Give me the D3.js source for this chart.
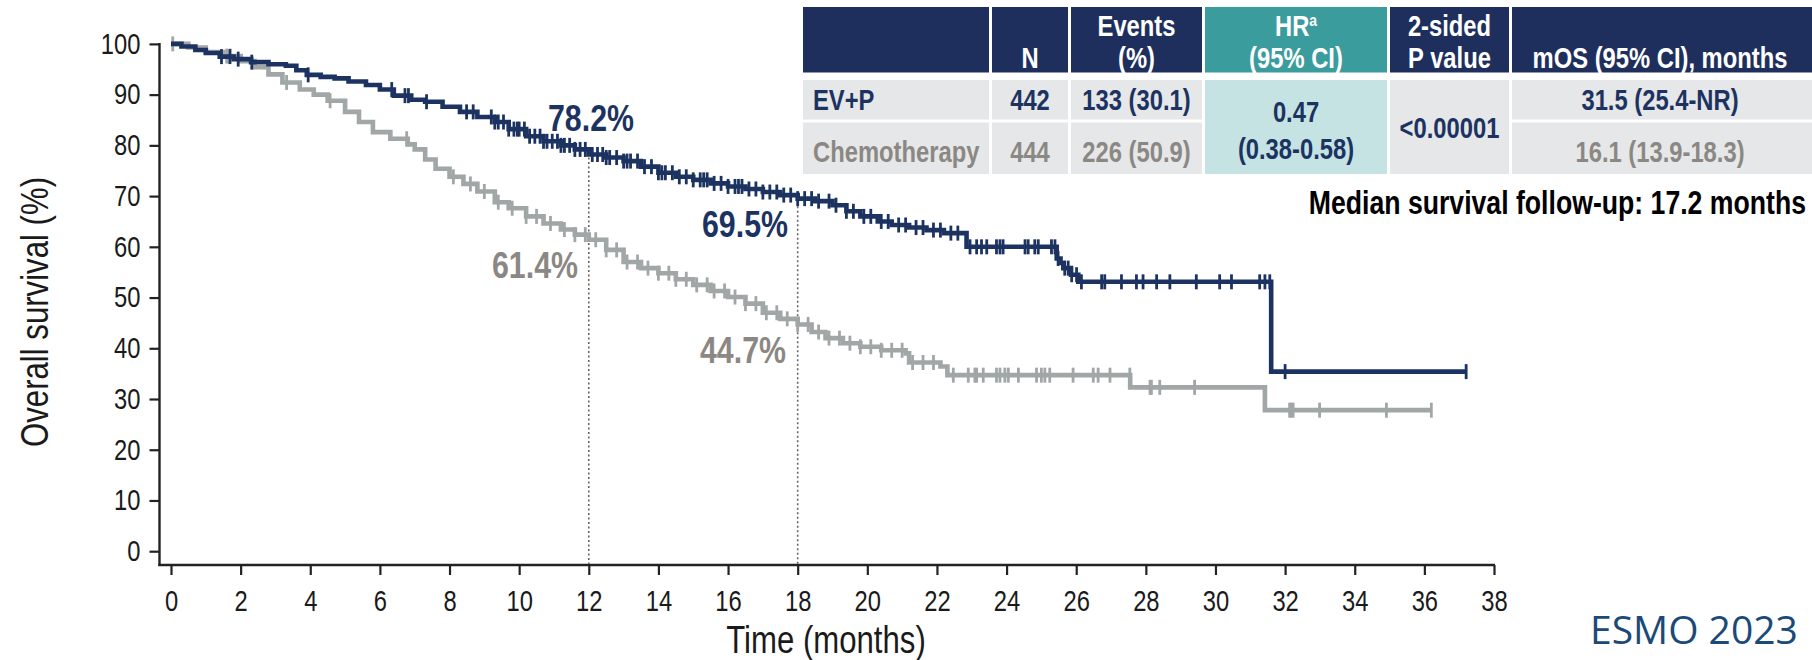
<!DOCTYPE html>
<html>
<head>
<meta charset="utf-8">
<script src="https://cdn.jsdelivr.net/npm/d3@7"></script>
<style>
  html, body { margin: 0; padding: 0; background: #ffffff; }
  svg { display: block; }
</style>
</head>
<body>
<svg id="chart" width="1812" height="660"></svg>
<script>
// ---------------- DATA ----------------
const xTicks = [0, 2, 4, 6, 8, 10, 12, 14, 16, 18, 20, 22, 24, 26, 28, 30, 32, 34, 36, 38];
const yTicks = [0, 10, 20, 30, 40, 50, 60, 70, 80, 90, 100];

// EV+P Kaplan-Meier steps: time (months), survival (%)
const evpTime = [0, 0.3, 0.7, 1.0, 1.4, 1.8, 2.3, 2.8, 3.3, 3.6, 3.9, 4.3, 4.7, 5.1, 5.6, 6.0, 6.4, 6.9, 7.3, 7.8,
  8.3, 8.8, 9.3, 9.7, 10.2, 10.7, 11.2, 11.6, 12.0, 12.5, 13.0, 13.5, 14.0, 14.5, 15.0, 15.5, 16.0, 16.5, 17.0, 17.5,
  18.0, 18.5, 19.0, 19.4, 19.8, 20.3, 20.7, 21.2, 21.7, 22.2, 22.85, 25.44, 25.55, 25.63, 25.85, 26.06, 31.6, 37.2];
const evpSurv = [100, 99.5, 98.8, 98.2, 97.5, 97.0, 96.4, 96.0, 95.7, 94.8, 93.9, 93.5, 93.2, 92.6, 91.9, 91.0, 89.8, 89.0, 88.6, 87.6,
  86.6, 85.6, 84.6, 83.2, 81.8, 80.8, 80.0, 79.2, 78.2, 77.6, 76.9, 75.8, 74.6, 73.8, 73.2, 72.5, 71.9, 71.4, 70.8, 70.2,
  69.5, 69.0, 68.2, 67.0, 66.0, 65.0, 64.3, 63.8, 63.3, 62.7, 60.0, 57.7, 56.8, 55.8, 54.5, 53.1, 35.4, 35.4];

// Chemotherapy Kaplan-Meier steps
const chemoTime = [0, 0.5, 1.0, 1.5, 2.0, 2.4, 2.8, 3.2, 3.7, 4.1, 4.5, 5.0, 5.4, 5.8, 6.3, 6.8, 7.0, 7.3, 7.6, 8.0,
  8.4, 8.8, 9.3, 9.7, 10.2, 10.7, 11.2, 11.6, 12.0, 12.5, 13.0, 13.5, 14.0, 14.5, 15.0, 15.5, 16.0, 16.5, 17.0, 17.5,
  18.0, 18.4, 18.8, 19.3, 19.8, 20.4, 21.1, 21.2, 22.1, 22.3, 27.55, 31.42, 36.2];
const chemoSurv = [100, 99.3, 98.4, 97.6, 96.6, 95.4, 94.0, 92.4, 91.0, 90.0, 88.8, 86.6, 84.6, 82.6, 81.3, 80.2, 79.2, 77.2, 75.4, 73.8,
  72.4, 70.9, 68.8, 67.6, 66.0, 64.6, 63.4, 62.4, 61.4, 59.4, 57.0, 55.8, 54.8, 53.6, 52.5, 51.3, 50.1, 48.8, 47.0, 45.8,
  44.7, 43.2, 42.0, 41.0, 40.3, 39.6, 39.0, 37.2, 36.4, 34.7, 32.3, 27.8, 27.8];

// censoring times (months)
const evpCensor = [1.45, 1.69, 1.93, 2.32, 3.94, 6.34, 6.72, 6.82, 7.34, 8.49, 8.68, 9.2, 9.3, 9.4, 9.55, 9.7, 9.85, 9.95,
  10.0, 10.15, 10.3, 10.45, 10.6, 10.7, 10.8, 10.95, 11.1, 11.2, 11.3, 11.45, 11.6, 11.75, 11.9, 12.1, 12.25, 12.4, 12.5,
  12.6, 12.8, 13.0, 13.1, 13.2, 13.4, 13.6, 13.8, 14.0, 14.1, 14.2, 14.4, 14.6, 14.8, 15.0, 15.2, 15.3, 15.4, 15.6, 15.8,
  16.0, 16.2, 16.3, 16.4, 16.6, 16.8, 17.0, 17.2, 17.4, 17.6, 17.8, 18.0, 18.2, 18.4, 18.6, 18.9, 19.1, 19.4, 19.6, 19.9,
  20.1, 20.4, 20.6, 20.9, 21.1, 21.4, 21.6, 21.9, 22.1, 22.4, 22.6, 22.95, 23.14, 23.28, 23.43, 23.71, 23.81, 23.9,
  24.53, 24.62, 24.81, 24.91, 25.29, 25.39, 25.48, 25.67, 25.77, 25.87, 26.01, 26.15, 26.73, 26.82, 27.3, 27.73, 27.92,
  28.31, 28.69, 29.45, 30.12, 30.46, 31.27, 31.42, 31.56, 32.0, 37.2];
const chemoCensor = [0.05, 1.6, 1.7, 3.32, 4.57, 6.77, 8.11, 8.6, 9.0, 9.4, 9.8, 10.2, 10.5, 10.9, 11.3, 11.6, 11.9, 12.2,
  12.5, 12.8, 13.1, 13.4, 13.7, 14.0, 14.3, 14.5, 14.8, 15.1, 15.4, 15.6, 15.9, 16.2, 16.5, 16.8, 17.1, 17.4, 17.7, 18.0,
  18.3, 18.6, 18.9, 19.2, 19.5, 19.8, 20.1, 20.4, 20.7, 21.0, 21.3, 21.6, 21.9, 22.47, 22.9, 23.09, 23.14, 23.33, 23.71,
  23.81, 23.95, 24.05, 24.34, 24.86, 25.0, 25.1, 25.24, 25.91, 26.49, 26.63, 26.97, 27.54, 28.12, 28.16, 28.4, 29.4,
  32.13, 32.18, 32.23, 32.99, 34.91, 36.2];

// landmark estimates
const landmarkTimes = [12, 18];
const evpLandmark = [78.2, 69.5];
const chemoLandmark = [61.4, 44.7];

// table
const tableHeader1 = ["", "", "Events", "HR", "2-sided", ""];
const tableHeader2 = ["", "N", "(%)", "(95% CI)", "P value", "mOS (95% CI), months"];
const armNames = ["EV+P", "Chemotherapy"];
const armN = ["442", "444"];
const armEvents = ["133 (30.1)", "226 (50.9)"];
const hrValue = ["0.47", "(0.38-0.58)"];
const pValue = "<0.00001";
const armMOS = ["31.5 (25.4-NR)", "16.1 (13.9-18.3)"];
const followUpNote = "Median survival follow-up: 17.2 months";
const footer = "ESMO 2023";
const xTitle = "Time (months)";
const yTitle = "Overall survival (%)";

// ---------------- STYLE ----------------
const NAVY = "#1c3362";
const GRAYLINE = "#a1a6a6";
const GRAYTEXT = "#8b8884";
const HEAD = "#1f2f5d";
const TEAL = "#3b9c9d";
const TEAL_LIGHT = "#c5e3e3";
const CELL = "#e6e7e8";

function fontAvailable(name) {
  const c = document.createElement("canvas").getContext("2d");
  const s = "abcdefghijklmnopqrstuvwxyz0123456789ABCDEFG";
  c.font = "40px monospace";
  const w1 = c.measureText(s).width;
  c.font = `40px "${name}", monospace`;
  const w2 = c.measureText(s).width;
  return Math.abs(w1 - w2) > 0.5;
}
const NARROW = fontAvailable("Liberation Sans Narrow");
const FF = NARROW ? '"Liberation Sans Narrow", "Arial Narrow", sans-serif' : '"Liberation Sans", Arial, sans-serif';
const SX = NARROW ? 1 : 0.82;

const svg = d3.select("#chart");

function T(sel, x, y, s, o = {}) {
  const t = sel.append("text")
    .attr("transform", `translate(${x},${y})${o.rot ? ` rotate(${o.rot})` : ""} scale(${SX},1)`)
    .attr("font-family", FF)
    .attr("font-size", o.size || 29)
    .attr("font-weight", o.weight || "normal")
    .attr("fill", o.fill || "#111")
    .attr("text-anchor", o.anchor || "start")
    .text(s);
  return t;
}

// ---------------- SCALES ----------------
const x = d3.scaleLinear().domain([0, 38]).range([171, 1494]);
const y = d3.scaleLinear().domain([0, 100]).range([551.2, 43.9]);
const axisX = 159.5, axisY = 565;

// ---------------- AXES ----------------
const yAxis = d3.axisLeft(y).tickValues(yTicks).tickSize(10).tickPadding(7).tickSizeOuter(0);
const gy = svg.append("g").attr("transform", `translate(${axisX},0)`).call(yAxis);
gy.select(".domain").remove();
gy.selectAll(".tick line").attr("stroke", "#222").attr("stroke-width", 2.2);
gy.selectAll(".tick text")
  .attr("font-family", FF).attr("font-size", 29).attr("fill", "#1a1a1a")
  .attr("x", -19 / SX).attr("transform", `scale(${SX},1)`);

const xAxis = d3.axisBottom(x).tickValues(xTicks).tickSize(10).tickPadding(15).tickSizeOuter(0);
const gx = svg.append("g").attr("transform", `translate(0,${axisY})`).call(xAxis);
gx.select(".domain").remove();
gx.selectAll(".tick line").attr("stroke", "#222").attr("stroke-width", 2.2);
gx.selectAll(".tick text")
  .attr("font-family", FF).attr("font-size", 29).attr("fill", "#1a1a1a")
  .attr("transform", `scale(${SX},1)`);

// axis lines
svg.append("line").attr("x1", axisX).attr("x2", axisX).attr("y1", y(100) - 1).attr("y2", axisY + 1.1)
  .attr("stroke", "#222").attr("stroke-width", 2.4);
svg.append("line").attr("x1", axisX - 1.2).attr("x2", x(38) + 1).attr("y1", axisY).attr("y2", axisY)
  .attr("stroke", "#222").attr("stroke-width", 2.4);

T(svg, 826, 653, xTitle, { size: 38, anchor: "middle", fill: "#1a1a1a" });
T(svg, 48, 312, yTitle, { size: 38, anchor: "middle", rot: -90, fill: "#1a1a1a" });

// ---------------- LANDMARK LINES ----------------
landmarkTimes.forEach((t, i) => {
  svg.append("line")
    .attr("x1", x(t)).attr("x2", x(t))
    .attr("y1", y(evpLandmark[i]) + 3).attr("y2", axisY - 1)
    .attr("stroke", "#666").attr("stroke-width", 1.6).attr("stroke-dasharray", "2,2.5");
});

// ---------------- CURVES ----------------
const line = d3.line().x(d => x(d[0])).y(d => y(d[1])).curve(d3.curveStepAfter);
function survAt(times, surv, t) {
  let v = surv[0];
  for (let i = 0; i < times.length; i++) { if (times[i] <= t + 1e-9) v = surv[i]; }
  return v;
}
function drawArm(times, surv, censor, color) {
  const pts = times.map((t, i) => [t, surv[i]]);
  const g = svg.append("g");
  g.append("path").datum(pts).attr("d", line)
    .attr("fill", "none").attr("stroke", color).attr("stroke-width", 4.6).attr("stroke-linejoin", "miter");
  g.selectAll("line.c").data(censor).enter().append("line")
    .attr("x1", d => x(d)).attr("x2", d => x(d))
    .attr("y1", d => y(survAt(times, surv, d)) - 7.5)
    .attr("y2", d => y(survAt(times, surv, d)) + 7.5)
    .attr("stroke", color).attr("stroke-width", 2.8);
}
drawArm(chemoTime, chemoSurv, chemoCensor, GRAYLINE);
drawArm(evpTime, evpSurv, evpCensor, NAVY);

// landmark labels
T(svg, 591, 131, evpLandmark[0].toFixed(1) + "%", { size: 37, weight: "bold", anchor: "middle", fill: NAVY });
T(svg, 745, 237, evpLandmark[1].toFixed(1) + "%", { size: 37, weight: "bold", anchor: "middle", fill: NAVY });
T(svg, 535, 278, chemoLandmark[0].toFixed(1) + "%", { size: 37, weight: "bold", anchor: "middle", fill: GRAYTEXT });
T(svg, 743, 363, chemoLandmark[1].toFixed(1) + "%", { size: 37, weight: "bold", anchor: "middle", fill: GRAYTEXT });

// ---------------- TABLE ----------------
const colX0 = [803, 992, 1071, 1205, 1390, 1512];
const colX1 = [989, 1068, 1202, 1387, 1509, 1812];
const hdrY0 = 7, hdrY1 = 72.5, r1Y0 = 80, r1Y1 = 119.5, r2Y0 = 122.5, r2Y1 = 174;
const tb = svg.append("g");
colX0.forEach((c0, i) => {
  tb.append("rect").attr("x", c0).attr("y", hdrY0).attr("width", colX1[i] - c0).attr("height", hdrY1 - hdrY0)
    .attr("fill", i === 3 ? TEAL : HEAD);
});
colX0.forEach((c0, i) => {
  if (i === 3 || i === 4) {
    tb.append("rect").attr("x", c0).attr("y", r1Y0).attr("width", colX1[i] - c0).attr("height", r2Y1 - r1Y0)
      .attr("fill", i === 3 ? TEAL_LIGHT : CELL);
  } else {
    tb.append("rect").attr("x", c0).attr("y", r1Y0).attr("width", colX1[i] - c0).attr("height", r1Y1 - r1Y0).attr("fill", CELL);
    tb.append("rect").attr("x", c0).attr("y", r2Y0).attr("width", colX1[i] - c0).attr("height", r2Y1 - r2Y0).attr("fill", CELL);
  }
});
const cx = i => (i === 5 ? 1660 : (colX0[i] + colX1[i]) / 2);
// header texts
tableHeader1.forEach((s, i) => {
  if (!s) return;
  const t = T(tb, cx(i), 36, s, { size: 29, weight: "bold", anchor: "middle", fill: "#ffffff" });
  if (s === "HR") {
    t.append("tspan").attr("font-size", 17).attr("dy", -10).text("a");
  }
});
tableHeader2.forEach((s, i) => {
  if (!s) return;
  T(tb, cx(i), 68, s, { size: 29, weight: "bold", anchor: "middle", fill: "#ffffff" });
});
// body
const rowBase = [110, 162];
const rowFill = [NAVY, GRAYTEXT];
armNames.forEach((nm, r) => {
  T(tb, 813, rowBase[r], nm, { size: 29, weight: "bold", fill: rowFill[r] });
  T(tb, cx(1), rowBase[r], armN[r], { size: 29, weight: "bold", anchor: "middle", fill: rowFill[r] });
  T(tb, cx(2), rowBase[r], armEvents[r], { size: 29, weight: "bold", anchor: "middle", fill: rowFill[r] });
  T(tb, cx(5), rowBase[r], armMOS[r], { size: 29, weight: "bold", anchor: "middle", fill: rowFill[r] });
});
T(tb, cx(3), 122, hrValue[0], { size: 29, weight: "bold", anchor: "middle", fill: NAVY });
T(tb, cx(3), 159, hrValue[1], { size: 29, weight: "bold", anchor: "middle", fill: NAVY });
T(tb, cx(4), 138, pValue, { size: 29, weight: "bold", anchor: "middle", fill: NAVY });

T(svg, 1806, 214, followUpNote, { size: 32.5, weight: "bold", anchor: "end", fill: "#000000" });

// footer (kept fully inside the picture)
svg.append("text").attr("x", 1590).attr("y", 644)
  .attr("font-family", '"Open Sans", "Noto Sans", sans-serif').attr("font-size", 39)
  .attr("fill", "#1b4a78").text(footer);
</script>
</body>
</html>
